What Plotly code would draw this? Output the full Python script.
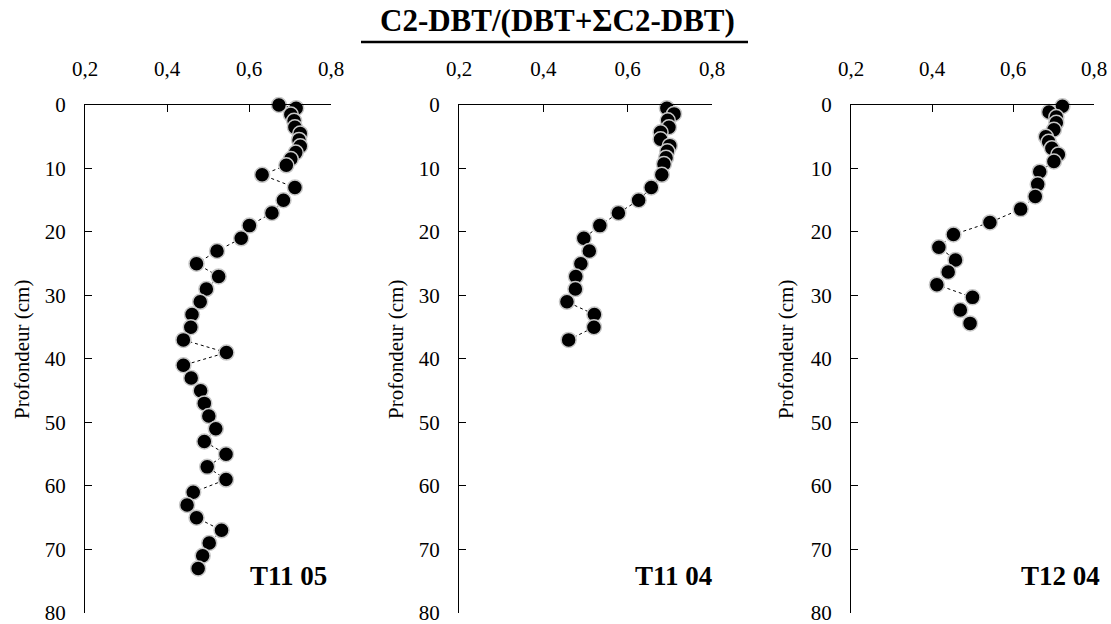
import plotly.graph_objects as go

# ---- data ----
panel_names = ["T11 05", "T11 04", "T12 04"]

depth_t1105 = [0, 0.5, 1.5, 2.5, 3.5, 4.5, 5.5, 6.5, 7.5, 8.5, 9.5,
               11, 13, 15, 17, 19, 21, 23, 25, 27, 29,
               31, 33, 35, 37, 39, 41, 43, 45, 47, 49,
               51, 53, 55, 57, 59, 61, 63, 65, 67, 69, 71, 73]
ratio_t1105 = [0.673, 0.715, 0.702, 0.710, 0.712, 0.725, 0.722, 0.725, 0.714, 0.702, 0.691,
               0.632, 0.712, 0.684, 0.656, 0.601, 0.581, 0.522, 0.472, 0.526, 0.496,
               0.481, 0.461, 0.458, 0.440, 0.545, 0.440, 0.459, 0.482, 0.491, 0.502,
               0.519, 0.491, 0.544, 0.498, 0.544, 0.464, 0.449, 0.472, 0.533, 0.503, 0.487, 0.476]

depth_t1104 = [0.5, 1.4, 2.4, 3.5, 4.3, 5.4, 6.4, 7.3, 8.3, 9.3,
               11, 13, 15, 17, 19, 21, 23, 25, 27, 29, 31, 33, 35, 37]
ratio_t1104 = [0.693, 0.710, 0.695, 0.698, 0.678, 0.678, 0.700, 0.694, 0.691, 0.686,
               0.681, 0.656, 0.626, 0.578, 0.534, 0.496, 0.509, 0.489, 0.477, 0.476,
               0.456, 0.521, 0.520, 0.460]

depth_t1204 = [0.2, 1.1, 1.9, 2.8, 3.9, 5.0, 5.8, 6.8, 7.8, 8.9,
               10.5, 12.5, 14.4, 16.4, 18.5, 20.4, 22.4, 24.4, 26.3, 28.3, 30.3, 32.3, 34.4]
ratio_t1204 = [0.722, 0.689, 0.707, 0.707, 0.701, 0.681, 0.688, 0.696, 0.712, 0.701,
               0.666, 0.661, 0.655, 0.619, 0.543, 0.453, 0.417, 0.458, 0.440, 0.412,
               0.500, 0.470, 0.494]

x_tickvals = [0.2, 0.4, 0.6, 0.8]
x_ticktext = ["0,2", "0,4", "0,6", "0,8"]
y_tickvals = [0, 10, 20, 30, 40, 50, 60, 70, 80]
y_title = "Profondeur (cm)"
main_title = "C2-DBT/(DBT+ΣC2-DBT)"

depths = [depth_t1105, depth_t1104, depth_t1204]
ratios = [ratio_t1105, ratio_t1104, ratio_t1204]

# ---- layout geometry ----
W, H = 1111, 624
x_px = [(85, 331), (459, 712), (851, 1094)]
y_top, y_bot = 105, 613
ydom = [1 - y_bot / H, 1 - y_top / H]
FONT = "Liberation Serif"

fig = go.Figure()
for i in range(3):
    xa = "x" if i == 0 else f"x{i+1}"
    ya = "y" if i == 0 else f"y{i+1}"
    fig.add_trace(go.Scatter(
        x=ratios[i], y=depths[i], xaxis=xa, yaxis=ya,
        mode="lines+markers",
        line=dict(color="black", width=1, dash="dot"),
        marker=dict(size=15, color="black", line=dict(color="#c8c8c8", width=1.5)),
        cliponaxis=False, showlegend=False,
    ))
    suffix = "" if i == 0 else str(i + 1)
    fig.update_layout(**{
        f"xaxis{suffix}": dict(
            domain=[x_px[i][0] / W, x_px[i][1] / W], anchor=ya, automargin=False,
            range=[0.2, 0.8], side="top", tickvals=x_tickvals, ticktext=x_ticktext,
            ticks="inside", ticklen=7, tickwidth=1, tickcolor="black",
            showline=True, linecolor="black", linewidth=1.2, showgrid=False, zeroline=False,
            tickfont=dict(family=FONT, size=21, color="black"), ticklabelstandoff=20,
            ticklabeloverflow="allow",
        ),
        f"yaxis{suffix}": dict(
            domain=ydom, anchor=xa, range=[80.02, 0], tickvals=y_tickvals, automargin=False,
            ticks="inside", ticklen=7, tickwidth=1, tickcolor="black",
            showline=True, linecolor="black", linewidth=1.2, showgrid=False, zeroline=False,
            tickfont=dict(family=FONT, size=21, color="black"), ticklabelstandoff=14,
            ticklabeloverflow="allow",
        ),
    })

annotations = []
ytitle_x = [22, 396, 786]
label_x = [288, 673, 1060]
for i in range(3):
    annotations.append(dict(
        text=y_title, x=ytitle_x[i] / W, y=1 - 350 / H, xref="paper", yref="paper",
        showarrow=False, textangle=-90, xanchor="center", yanchor="middle",
        font=dict(family=FONT, size=21, color="black"),
    ))
    annotations.append(dict(
        text=f"<b>{panel_names[i]}</b>", x=label_x[i] / W, y=1 - 576 / H,
        xref="paper", yref="paper", showarrow=False, xanchor="center", yanchor="middle",
        font=dict(family=FONT, size=27, color="black"),
    ))
annotations.append(dict(
    text=f"<b>{main_title}</b>", x=557 / W, y=1 - 20 / H, xref="paper", yref="paper",
    showarrow=False, xanchor="center", yanchor="middle",
    font=dict(family=FONT, size=31, color="black"),
))

fig.update_layout(
    template="none",
    width=W, height=H, margin=dict(l=0, r=0, t=0, b=0, pad=0, autoexpand=False),
    paper_bgcolor="white", plot_bgcolor="white",
    annotations=annotations,
    shapes=[dict(type="line", xref="paper", yref="paper",
                 x0=361 / W, x1=748 / W, y0=1 - 42 / H, y1=1 - 42 / H,
                 line=dict(color="black", width=2.5))],
)

fig.write_html(
    "out.html",
    config={"displayModeBar": False},
    post_script="document.body.style.margin='0px';document.body.style.overflow='hidden';",
)
